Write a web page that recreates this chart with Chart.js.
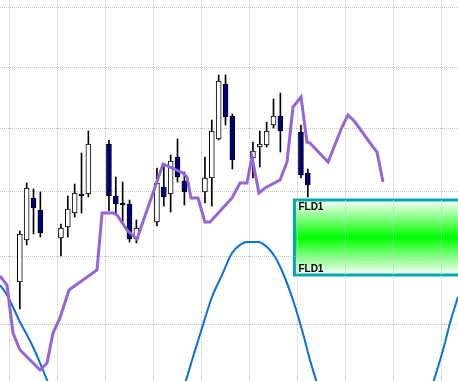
<!DOCTYPE html>
<html>
<head>
<meta charset="utf-8">
<script src="https://cdn.jsdelivr.net/npm/chart.js@4"></script>
<style>
  html, body { margin: 0; padding: 0; background: #fff; }
  #wrap { width: 458px; height: 381px; position: relative; }
</style>
</head>
<body>
<div id="wrap"><canvas id="cycleChart"></canvas></div>
<script>
// day index (0 = first Monday), weekends left as gaps
const tradingDays = [1, 2, 3, 4, 7, 8, 9, 10, 11, 14, 15, 16, 17, 18, 21, 22, 23, 24, 25,
  28, 29, 30, 31, 32, 35, 36, 37, 38, 39, 42, 43];
const opens  = [109.9, 114.1, 118.3, 117.1, 114.3, 115.4, 116.8, 118.7, 118.7, 123.7, 118.5, 117.8, 117.7, 114.2,
  115.9, 119.4, 118.7, 122.4, 120.0, 118.9, 120.3, 124.2, 129.7, 126.5, 122.3, 123.4, 123.6, 125.6, 126.5, 124.9, 120.8];
const highs  = [115.0, 119.8, 119.2, 118.9, 115.7, 118.5, 119.7, 122.8, 125.0, 124.1, 120.4, 119.9, 118.1, 116.1,
  121.3, 121.5, 122.6, 124.2, 120.9, 122.4, 126.1, 130.6, 130.6, 126.7, 123.9, 125.0, 125.9, 128.2, 128.8, 125.6, 121.2];
const lows   = [107.2, 113.6, 114.7, 114.4, 112.5, 114.4, 116.4, 116.8, 118.4, 117.0, 116.8, 115.8, 113.9, 113.8,
  115.5, 117.5, 116.9, 119.9, 117.6, 117.8, 117.5, 124.1, 125.6, 121.2, 120.3, 121.4, 123.4, 125.3, 122.9, 120.3, 118.4];
const closes = [114.7, 119.3, 117.3, 114.8, 115.3, 117.2, 118.8, 118.5, 123.7, 118.5, 117.7, 117.6, 114.2, 115.3,
  119.8, 118.4, 122.0, 120.4, 118.9, 120.3, 125.0, 130.0, 126.4, 122.1, 123.0, 123.7, 125.0, 126.5, 125.0, 120.6, 119.6];

// FLD line (purple)
const fldDays   = [-1.9, -0.87, 0.01, 1.03, 3.22, 3.95, 4.97, 5.84, 6.86, 8.18, 12.26, 13.0, 14.59, 15.17, 16.63, 18.09,
  21.9, 24.8, 25.38, 25.97, 26.99, 28.0, 28.74, 31.95, 33.11, 34.13, 34.86, 35.88, 36.76, 38.95, 39.97, 40.84,
  42.01, 42.88, 43.32, 45.95, 47.99, 48.86, 49.88, 52.51, 53.09, 53.97];
const fldValues = [110.5, 109.6, 104.8, 103.1, 101.6, 101.1, 101.8, 104.8, 106.3, 109.1, 111.1, 116.8, 116.8, 116.6, 115.1, 114.2,
  121.7, 120.8, 120.4, 118.3, 118.3, 115.9, 115.9, 118.3, 119.8, 119.8, 122.4, 118.8, 119.3, 120.1, 121.9, 127.4,
  128.4, 123.9, 123.8, 121.9, 125.4, 126.6, 125.9, 123.4, 122.9, 119.9];

// cycle wave (blue)
const waveDays   = [-1.89, -0.87, 1.03, 2.93, 4.97, 8.32, 11.97, 15.03, 18.53, 22.17, 25.24, 26.26, 27.57, 29.03, 30.49,
  31.95, 33.11, 34.13, 35.74, 37.05, 38.22, 39.38, 40.84, 42.16, 43.32, 44.2, 46.97, 49.88, 52.8, 55.7, 58.63,
  61.4, 62.72, 63.74, 64.9];
const waveValues = [109.6, 108.6, 105.9, 103.4, 100.1, 94.1, 89.1, 87.9, 89.6, 95.1, 100.1, 102.4, 105.3, 108.4, 110.6,
  112.8, 113.6, 113.9, 113.9, 113.4, 112.4, 110.8, 108.1, 105.1, 102.1, 100.1, 94.1, 89.1, 87.9, 89.1, 94.1,
  100.1, 103.1, 105.8, 108.4];

// projection zone
const zoneStart = 41.05;
const zoneTop = 118.1;
const zoneBottom = 110.6;
const zoneLabel = "FLD1";

// grid positions
const weekLines = [-0.57, 6.43, 13.43, 20.43, 27.43, 34.43, 41.43, 48.43, 55.43, 62.43];
const priceLines = [137.37, 131.37, 125.27, 118.98, 112.47, 105.67];

const xMin = -1.887, xMax = 64.905;
const yMin = 100.0, yMax = 138.1;

const bodies = tradingDays.map((d, i) => ({ x: d, y: [opens[i], closes[i]] }));
const wicks = tradingDays.map((d, i) => ({ x: d, y: [lows[i], highs[i]] }));
const bodyColors = tradingDays.map((d, i) => (closes[i] >= opens[i] ? "#ffffff" : "#000080"));

const zonePlugin = {
  id: "zone",
  beforeDraw(chart) {
    const c = chart.ctx;
    const x = chart.scales.x, y = chart.scales.y;
    c.save();
    c.fillStyle = "#ffffff";
    c.fillRect(0, 0, chart.width, chart.height);
    const left = x.getPixelForValue(zoneStart);
    const top = y.getPixelForValue(zoneTop);
    const bottom = y.getPixelForValue(zoneBottom);
    const right = chart.chartArea.right + 6;
    const g = c.createLinearGradient(0, top, 0, bottom);
    g.addColorStop(0, "#ffffff");
    g.addColorStop(0.5, "#00ff00");
    g.addColorStop(1, "#ffffff");
    c.fillStyle = g;
    c.fillRect(left, top, right - left, bottom - top);
    c.lineWidth = 3;
    c.strokeStyle = "#00aaaa";
    c.strokeRect(left, top, right - left, bottom - top);
    c.restore();
  },
  afterDraw(chart) {
    const c = chart.ctx;
    const x = chart.scales.x, y = chart.scales.y;
    const left = x.getPixelForValue(zoneStart);
    const top = y.getPixelForValue(zoneTop);
    const bottom = y.getPixelForValue(zoneBottom);
    c.save();
    c.font = "bold 10px 'Liberation Sans', Arial, sans-serif";
    c.fillStyle = "#000000";
    c.textBaseline = "alphabetic";
    c.fillText(zoneLabel, left + 4, top + 10);
    c.fillText(zoneLabel, left + 4, bottom - 3);
    c.restore();
  }
};

const ctx = document.getElementById("cycleChart").getContext("2d");
new Chart(ctx, {
  type: "bar",
  data: {
    datasets: [
      {
        type: "line",
        label: "FLD",
        data: fldDays.map((d, i) => ({ x: d, y: fldValues[i] })),
        borderColor: "#9565da",
        borderWidth: 3,
        pointRadius: 0,
        tension: 0,
        order: 1,
      },
      {
        type: "line",
        label: "Cycle",
        data: waveDays.map((d, i) => ({ x: d, y: waveValues[i] })),
        borderColor: "#0a70dc",
        borderWidth: 2,
        pointRadius: 0,
        cubicInterpolationMode: "monotone",
        order: 2,
      },
      {
        label: "Body",
        data: bodies,
        backgroundColor: bodyColors,
        borderColor: "#000000",
        borderWidth: 1,
        borderSkipped: false,
        barThickness: 5,
        grouped: false,
        order: 4,
      },
      {
        label: "Wick",
        data: wicks,
        backgroundColor: "#000000",
        borderWidth: 0,
        barThickness: 1,
        grouped: false,
        order: 5,
      },
    ],
  },
  options: {
    responsive: true,
    maintainAspectRatio: false,
    animation: false,
    layout: { padding: 0 },
    plugins: {
      legend: { display: false },
      tooltip: { enabled: false },
    },
    scales: {
      x: {
        type: "linear",
        min: xMin,
        max: xMax,
        offset: false,
        afterBuildTicks: (scale) => {
          scale.ticks = weekLines.map((v) => ({ value: v }));
        },
        ticks: { display: false },
        grid: { color: "#c4c4c4", lineWidth: 1, drawTicks: false, offset: false },
        border: { display: false, dash: [1, 1] },
      },
      y: {
        type: "linear",
        min: yMin,
        max: yMax,
        afterBuildTicks: (scale) => {
          scale.ticks = priceLines.map((v) => ({ value: v }));
        },
        ticks: { display: false },
        grid: { color: "#c4c4c4", lineWidth: 1, drawTicks: false },
        border: { display: false, dash: [1, 1] },
      },
    },
  },
  plugins: [zonePlugin],
});
</script>
</body>
</html>
